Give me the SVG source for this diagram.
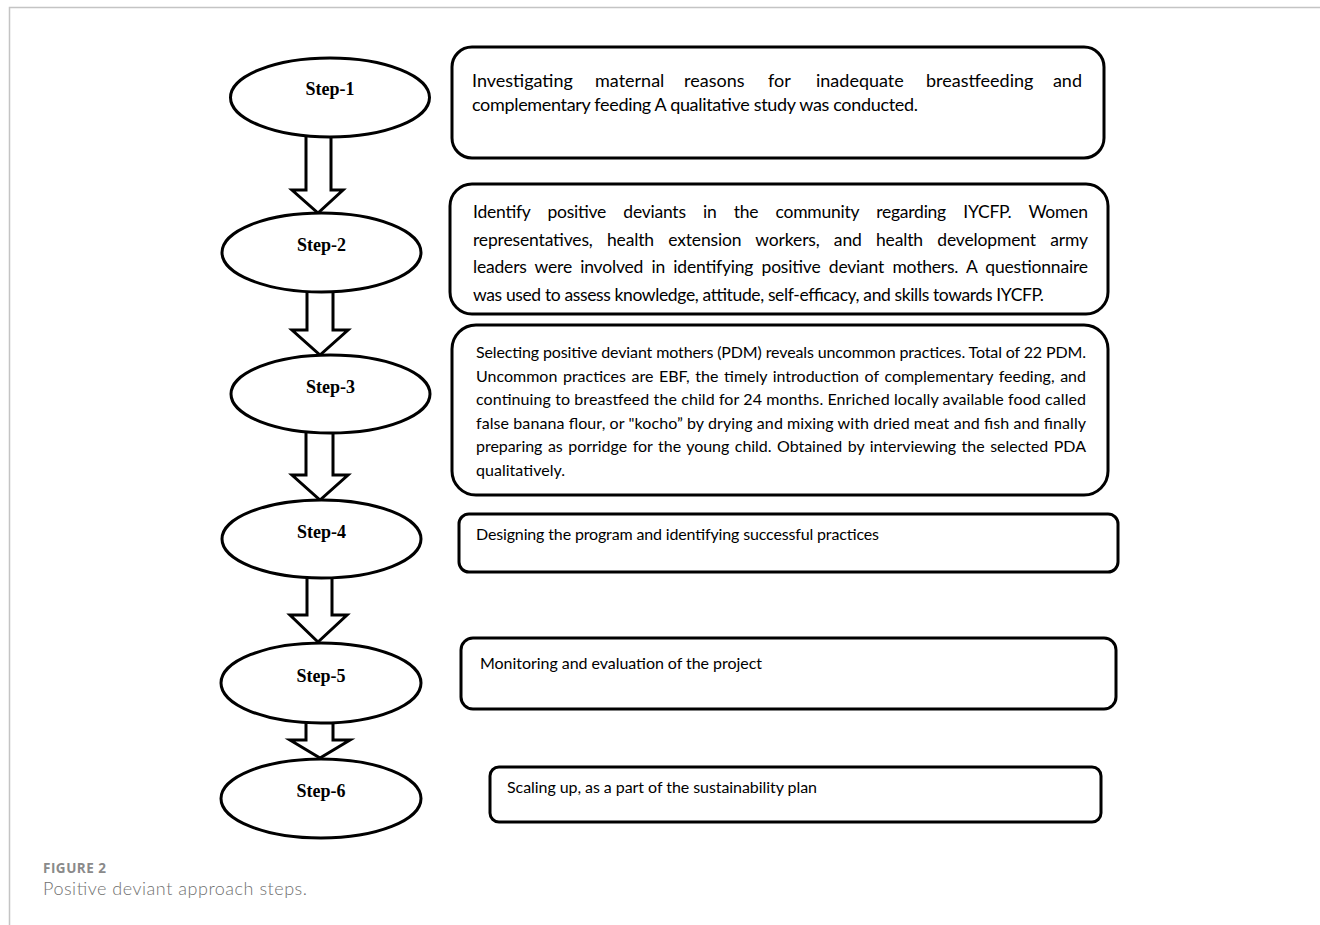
<svg xmlns="http://www.w3.org/2000/svg" width="1320" height="925" viewBox="0 0 1320 925">
<style>
.frame{stroke:#c4c4c4;stroke-width:1.5;fill:none}
.ell{fill:#fff;stroke:#000;stroke-width:3}
.box{fill:#fff;stroke:#000;stroke-width:3}
.arr{fill:#fff;stroke:#000;stroke-width:3;stroke-linejoin:miter}
.st{font-family:"Liberation Serif","Times New Roman",serif;font-weight:bold;font-size:18px;fill:#000;text-anchor:middle}
.t1{font-family:Lato,"Liberation Sans",sans-serif;font-size:18px;fill:#000}
.t2{font-family:Lato,"Liberation Sans",sans-serif;font-size:17.5px;fill:#000}
.t3{font-family:Lato,"Liberation Sans",sans-serif;font-size:16px;fill:#000}
.cap1{font-family:"Open Sans",Lato,sans-serif;font-size:13.5px;font-weight:bold;fill:#8a8a8a}
.cap2{font-family:Lato,"Open Sans",sans-serif;font-size:18px;font-weight:300;fill:#707070}
</style>
<rect width="1320" height="925" fill="#fff"/>
<path class="frame" d="M1320,7.5 H9.5 V925"/>

<g id="connectors">
<path class="arr" d="M306,130 V190 H292 L318,213 L343,190 H331 V130"/>
<path class="arr" d="M307,285 V330 H292 L320,355 L348,330 H333 V285"/>
<path class="arr" d="M306,425 V475 H292 L320,500 L348,475 H333 V425"/>
<path class="arr" d="M307,570 V615 H290 L318,642 L347,615 H332 V570"/>
<path class="arr" d="M306,715 V740 H290 L320,758 L350,740 H333 V715"/>
</g>

<g id="step1"><ellipse class="ell" cx="330" cy="97.5" rx="99.5" ry="39.5"/><text class="st" x="330" y="95">Step-1</text></g>
<g id="step2"><ellipse class="ell" cx="321.5" cy="252.5" rx="99.5" ry="39.5"/><text class="st" x="321.5" y="251">Step-2</text></g>
<g id="step3"><ellipse class="ell" cx="330.5" cy="394" rx="99.5" ry="39"/><text class="st" x="330.5" y="393">Step-3</text></g>
<g id="step4"><ellipse class="ell" cx="321.5" cy="539" rx="99.5" ry="39"/><text class="st" x="321.5" y="538">Step-4</text></g>
<g id="step5"><ellipse class="ell" cx="321" cy="683" rx="100" ry="40"/><text class="st" x="321" y="682">Step-5</text></g>
<g id="step6"><ellipse class="ell" cx="321" cy="798.5" rx="100" ry="39.5"/><text class="st" x="321" y="797">Step-6</text></g>

<g id="box1">
<rect class="box" x="452" y="47" width="652" height="111" rx="20"/>
<text class="t1" y="87"><tspan x="472">Investigating</tspan><tspan x="595">maternal</tspan><tspan x="684">reasons</tspan><tspan x="768">for</tspan><tspan x="816">inadequate</tspan><tspan x="926">breastfeeding</tspan><tspan x="1082" text-anchor="end">and</tspan></text>
<text class="t1" x="472" y="111" textLength="446" lengthAdjust="spacing">complementary feeding A qualitative study was conducted.</text>
</g>

<g id="box2">
<rect class="box" x="450" y="184" width="658" height="130" rx="22"/>
<text class="t2" x="473" y="218" textLength="615" lengthAdjust="spacing" word-spacing="13">Identify positive deviants in the community regarding IYCFP. Women</text>
<text class="t2" x="473" y="245.5" textLength="615" lengthAdjust="spacing" word-spacing="10">representatives, health extension workers, and health development army</text>
<text class="t2" x="473" y="273" textLength="615" lengthAdjust="spacing" word-spacing="4">leaders were involved in identifying positive deviant mothers. A questionnaire</text>
<text class="t2" x="473" y="300.5" textLength="571" lengthAdjust="spacing">was used to assess knowledge, attitude, self-efficacy, and skills towards IYCFP.</text>
</g>

<g id="box3">
<rect class="box" x="452" y="325" width="656" height="170" rx="24"/>
<text class="t3" x="476" y="358" textLength="610" lengthAdjust="spacing">Selecting positive deviant mothers (PDM) reveals uncommon practices. Total of 22 PDM.</text>
<text class="t3" x="476" y="381.6" textLength="610" lengthAdjust="spacing" word-spacing="1.5">Uncommon practices are EBF, the timely introduction of complementary feeding, and</text>
<text class="t3" x="476" y="405.2" textLength="610" lengthAdjust="spacing">continuing to breastfeed the child for 24 months. Enriched locally available food called</text>
<text class="t3" x="476" y="428.8" textLength="610" lengthAdjust="spacing">false banana flour, or "kocho” by drying and mixing with dried meat and fish and finally</text>
<text class="t3" x="476" y="452.4" textLength="610" lengthAdjust="spacing" word-spacing="1.5">preparing as porridge for the young child. Obtained by interviewing the selected PDA</text>
<text class="t3" x="476" y="476" textLength="89" lengthAdjust="spacing">qualitatively.</text>
</g>

<g id="box4">
<rect class="box" x="459" y="514" width="659" height="58" rx="10"/>
<text class="t3" x="476" y="540" textLength="403" lengthAdjust="spacing">Designing the program and identifying successful practices</text>
</g>

<g id="box5">
<rect class="box" x="461" y="638" width="655" height="71" rx="12"/>
<text class="t3" x="480" y="669" textLength="282" lengthAdjust="spacing">Monitoring and evaluation of the project</text>
</g>

<g id="box6">
<rect class="box" x="490" y="767" width="611" height="55" rx="9"/>
<text class="t3" x="507" y="793" textLength="310" lengthAdjust="spacing">Scaling up, as a part of the sustainability plan</text>
</g>

<g id="caption">
<text class="cap1" x="43" y="873" textLength="63" lengthAdjust="spacing">FIGURE 2</text>
<text class="cap2" x="43" y="895" textLength="264" lengthAdjust="spacing">Positive deviant approach steps.</text>
</g>
</svg>
